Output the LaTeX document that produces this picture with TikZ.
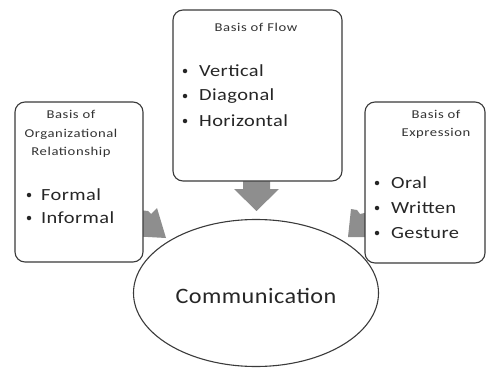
\documentclass[tikz,border=0pt]{standalone}
\usepackage{fontspec}
\setmainfont{Carlito}
\usetikzlibrary{shapes.geometric}
\definecolor{arrowgray}{HTML}{8E8E8E}
\definecolor{linegray}{HTML}{3A3A3A}
\newcommand{\wideT}[1]{\scalebox{1.22}[1]{\begin{tabular}{@{}c@{}}#1\end{tabular}}}
\newcommand{\wideI}[1]{\scalebox{1.2}[1]{#1}}
\tikzset{
  box/.style={draw=linegray, line width=1.1pt, rounded corners=10pt, fill=white},
  title/.style={font=\fontsize{12}{18.5}\selectfont\addfontfeature{LetterSpace=4}, text=black!80, inner sep=0pt},
  item/.style={font=\fontsize{17}{20}\selectfont\addfontfeature{LetterSpace=2}, text=black!85, anchor=west, inner sep=0pt},
  dot/.style={circle, fill=black!85, inner sep=0pt, minimum size=4.5pt},
  blockarrow/.style={fill=arrowgray, draw=none}
}
\begin{document}
\begin{tikzpicture}[x=1pt,y=-1pt]
\useasboundingbox (0,0) rectangle (487,369);
% side arrows (partly hidden behind the boxes)
\fill[blockarrow] (130,209) -- (148,211) -- (151,214) -- (157,208) -- (166,238) -- (130,236) -- cycle;
\fill[blockarrow] (378,210) -- (360,214) -- (357,210) -- (351,209) -- (348,237) -- (378,237) -- cycle;
% top arrow
\fill[blockarrow] (243,178) -- (270,178) -- (270,189) -- (279,189) -- (256.5,211) -- (234,189) -- (243,189) -- cycle;
% boxes
\draw[box] (15,102) rectangle (143,262);
\draw[box] (173,10) rectangle (342,181);
\draw[box] (365,102) rectangle (485,263);
% left box text
\node[title] (lt) at (71,133.5) {\wideT{Basis of\\Organizational\\Relationship}};
\node[dot] (ld1) at (29,195) {};
\node[item] (l1) at (41,195) {\wideI{Formal}};
\node[dot] (ld2) at (29,218) {};
\node[item] (l2) at (41,218) {\wideI{Informal}};
% top box text
\node[title] (tt) at (256,28) {\wideT{Basis of Flow}};
\node[dot] (td1) at (185,71) {};
\node[item] (t1) at (199,71) {\wideI{Vertical}};
\node[dot] (td2) at (185,96) {};
\node[item] (t2) at (199,96) {\wideI{Diagonal}};
\node[dot] (td3) at (185,121) {};
\node[item] (t3) at (199,121) {\wideI{Horizontal}};
% right box text
\node[title] (rt) at (436,124) {\wideT{Basis of\\Expression}};
\node[dot] (rd1) at (377,183) {};
\node[item] (r1) at (391,183) {\wideI{Oral}};
\node[dot] (rd2) at (377,208) {};
\node[item] (r2) at (391,208) {\wideI{Written}};
\node[dot] (rd3) at (377,233) {};
\node[item] (r3) at (391,233) {\wideI{Gesture}};
% ellipse
\node[draw=linegray, line width=1.1pt, ellipse, minimum width=245pt, minimum height=147pt, inner sep=0pt, fill=none] (comm) at (256,293) {};
\node[font=\fontsize{22}{24}\selectfont\addfontfeature{LetterSpace=2}, text=black!85] (ct) at (256,296) {\scalebox{1.1}[1]{Communication}};
\end{tikzpicture}
\end{document}
